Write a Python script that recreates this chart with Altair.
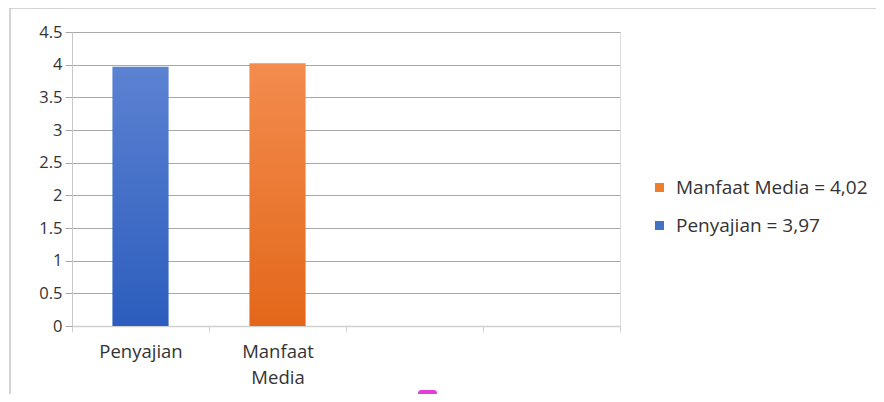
import altair as alt
import pandas as pd

categories = ["Penyajian", "Manfaat Media", " ", "  "]
bar_categories = ["Penyajian", "Manfaat Media"]
bar_values = [3.97, 4.02]
legend_labels = ["Manfaat Media = 4,02", "Penyajian = 3,97"]
legend_series = ["Penyajian = 3,97", "Manfaat Media = 4,02"]
y_ticks = [0, 0.5, 1, 1.5, 2, 2.5, 3, 3.5, 4, 4.5]

df = pd.DataFrame({"cat": bar_categories, "val": bar_values, "series": legend_series})

FONT = "Open Sans"
W, H = 548, 294

x_enc = alt.X("cat:N", scale=alt.Scale(domain=categories, paddingInner=0, paddingOuter=0),
              axis=alt.Axis(title=None, labelAngle=0, tickBand="extent", tickSize=6,
                            tickColor="#d0d0d0", domainColor="#d0d0d0", domainWidth=1.5,
                            labelFontSize=18.5, labelColor="#333333", labelPadding=10,
                            labelFont=FONT, labelExpr="split(datum.label, ' ')",
                            labelLineHeight=26, grid=False))
y_enc = alt.Y("val:Q", scale=alt.Scale(domain=[0, 4.5], nice=False),
              axis=alt.Axis(title=None, values=y_ticks, format=".1~f", grid=True,
                            gridColor="#a8a8a8", tickColor="#a8a8a8", tickSize=7,
                            domainColor="#c8c8c8", labelFontSize=16.5, labelColor="#333333",
                            labelFont=FONT, labelPadding=3))

blue = alt.Gradient(gradient="linear", x1=0, x2=0, y1=0, y2=1,
                    stops=[alt.GradientStop(color="#5c82d2", offset=0),
                           alt.GradientStop(color="#2c5dbd", offset=1)])
orange = alt.Gradient(gradient="linear", x1=0, x2=0, y1=0, y2=1,
                      stops=[alt.GradientStop(color="#f38c4e", offset=0),
                             alt.GradientStop(color="#e3671a", offset=1)])

base = alt.Chart(df)

bar_blue = base.mark_bar(color=blue, width=alt.RelativeBandSize(0.41)).encode(
    x=x_enc, y=y_enc).transform_filter(alt.datum.cat == "Penyajian")
bar_orange = base.mark_bar(color=orange, width=alt.RelativeBandSize(0.41)).encode(
    x=x_enc, y=y_enc).transform_filter(alt.datum.cat == "Manfaat Media")

legend_layer = base.mark_square(opacity=0, size=10).encode(
    x=x_enc, y=y_enc,
    color=alt.Color("series:N",
                    scale=alt.Scale(domain=legend_labels, range=["#ed7d31", "#4472c4"]),
                    legend=alt.Legend(title=None, orient="none", legendX=578, legendY=146,
                                      symbolType="square", symbolSize=81, symbolOpacity=1,
                                      symbolStrokeWidth=0, labelFontSize=19, labelFont=FONT,
                                      labelColor="#333333", labelOffset=7, rowPadding=18,
                                      labelLimit=0)))

frame = alt.Chart(pd.DataFrame({"k": [0]})).mark_rect(
    fill=None, stroke="#c8c8c8", strokeWidth=1.5).encode(
    x=alt.value(-62), x2=alt.value(W + 260), y=alt.value(-24), y2=alt.value(H + 100))

badge = alt.Chart(pd.DataFrame({"k": [0]})).mark_rect(
    fill="#e040d8", cornerRadius=3).encode(
    x=alt.value(346), x2=alt.value(365), y=alt.value(358), y2=alt.value(375))

chart = alt.layer(frame, bar_blue, bar_orange, legend_layer, badge).properties(
    width=W, height=H,
    autosize=alt.AutoSizeParams(type="none"),
    padding={"left": 64, "top": 24, "right": 256, "bottom": 68},
).configure_view(stroke=None).configure(background="white")

chart.save("out.html", embed_options={"renderer": "svg", "actions": False})
